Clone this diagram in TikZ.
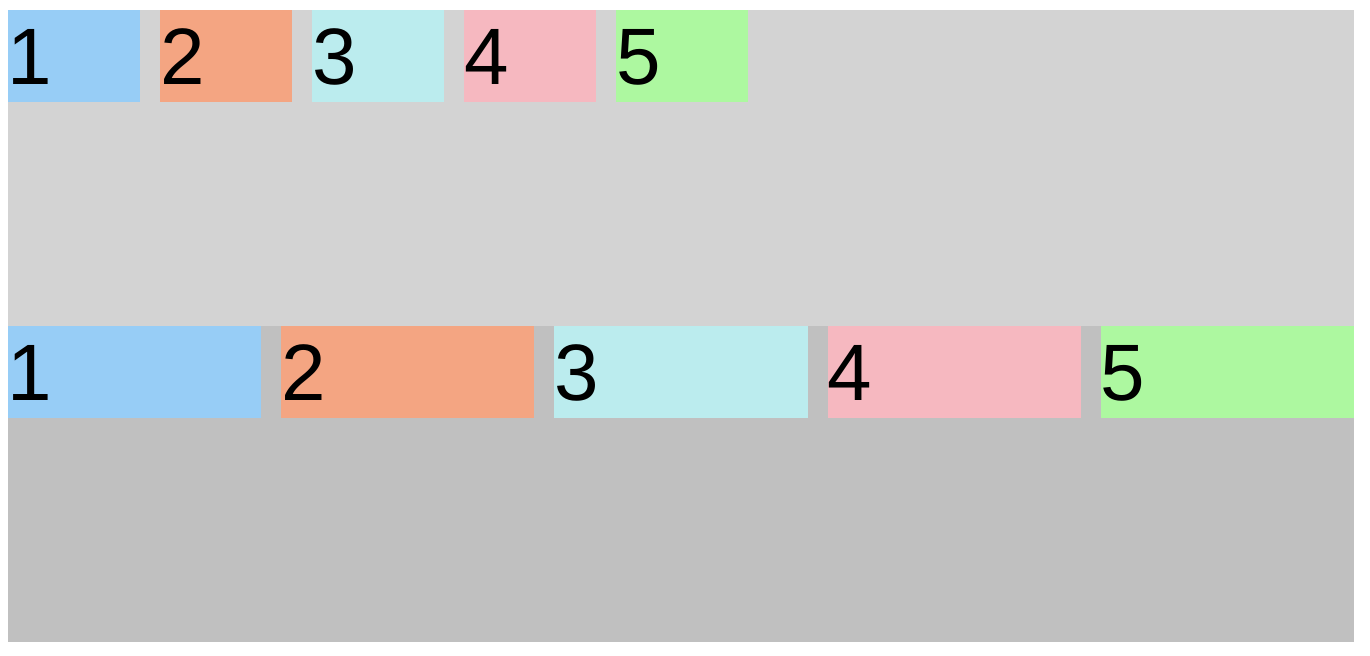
\documentclass[tikz,border=0pt]{standalone}
\usepackage{fontspec}
\setmainfont{Liberation Sans}
\usetikzlibrary{positioning}

\definecolor{boxblue}{HTML}{97CDF6}
\definecolor{boxsalmon}{HTML}{F4A582}
\definecolor{boxcyan}{HTML}{BBECEE}
\definecolor{boxpink}{HTML}{F6B8C0}
\definecolor{boxgreen}{HTML}{ADF8A0}
\definecolor{rowtop}{HTML}{D3D3D3}
\definecolor{rowbot}{HTML}{C0C0C0}

\tikzset{
  item/.style={inner sep=0pt, outer sep=0pt, minimum height=46pt, text height=37.5pt, text depth=8.5pt,
    align=left, font=\fontsize{40}{48}\selectfont},
  narrow/.style={item, text width=66pt},
  wide/.style={item, text width=126.6pt}
}

\begin{document}
\begin{tikzpicture}[x=0.5pt,y=-0.5pt]
\useasboundingbox (0,0) rectangle (1370,656);
\fill[rowtop] (8,10) rectangle (1354,326);
\fill[rowbot] (8,326) rectangle (1354,642);

\node[narrow, fill=boxblue, anchor=north west] (top1) at (8,10) {1};
\node[narrow, fill=boxsalmon, right=10pt of top1] (top2) {2};
\node[narrow, fill=boxcyan, right=10pt of top2] (top3) {3};
\node[narrow, fill=boxpink, right=10pt of top3] (top4) {4};
\node[narrow, fill=boxgreen, right=10pt of top4] (top5) {5};

\node[wide, fill=boxblue, anchor=north west] (bot1) at (8,326) {1};
\node[wide, fill=boxsalmon, right=10pt of bot1] (bot2) {2};
\node[wide, fill=boxcyan, right=10pt of bot2] (bot3) {3};
\node[wide, fill=boxpink, right=10pt of bot3] (bot4) {4};
\node[wide, fill=boxgreen, right=10pt of bot4] (bot5) {5};
\end{tikzpicture}
\end{document}
